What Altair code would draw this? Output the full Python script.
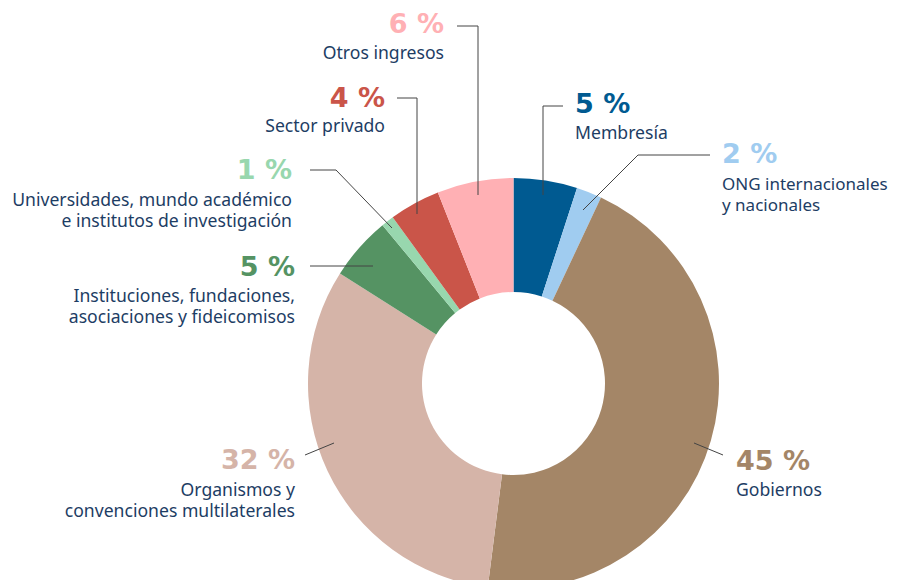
import altair as alt
import pandas as pd

# ---- data ----
categories = [
    "Membresía",
    "ONG internacionales y nacionales",
    "Gobiernos",
    "Organismos y convenciones multilaterales",
    "Instituciones, fundaciones, asociaciones y fideicomisos",
    "Universidades, mundo académico e institutos de investigación",
    "Sector privado",
    "Otros ingresos",
]
values = [5, 2, 45, 32, 5, 1, 4, 6]
pct_labels = ["5 %", "2 %", "45 %", "32 %", "5 %", "1 %", "4 %", "6 %"]
name_lines = [
    ["Membresía"],
    ["ONG internacionales", "y nacionales"],
    ["Gobiernos"],
    ["Organismos y", "convenciones multilaterales"],
    ["Instituciones, fundaciones,", "asociaciones y fideicomisos"],
    ["Universidades, mundo académico", "e institutos de investigación"],
    ["Sector privado"],
    ["Otros ingresos"],
]
colors = ["#005a91", "#a0ccf0", "#a48667", "#d5b4a8", "#559363", "#98d7ae", "#ca5549", "#ffb0b4"]

# ---- layout (page pixel coordinates) ----
M = 8  # page margin
center = (513.5, 383.5)
outer_r, inner_r = 205.5, 91.5
# (align, x, pct baseline, first line baseline, line step, name font size)
label_pos = [
    ("left", 575, 113, 139, 21, 17.6),
    ("left", 722, 163, 190, 21, 17.0),
    ("left", 736, 470, 496, 21, 17.6),
    ("right", 295, 469, 496, 21, 17.6),
    ("right", 295, 276, 302, 21, 17.6),
    ("right", 292, 179, 206, 21, 17.6),
    ("right", 385, 107, 132, 21, 17.6),
    ("right", 444, 33, 59, 21, 17.6),
]
leaders = [
    [(563, 106), (543, 106), (543, 195)],
    [(710, 155), (638, 155), (583, 210)],
    [(694, 443), (723, 455)],
    [(305, 455), (334, 443)],
    [(310, 266), (373, 266)],
    [(310, 170), (336, 170), (392, 228)],
    [(397, 98), (417, 98), (417, 214)],
    [(457, 26), (478, 26), (478, 195)],
]

NAME_FONT = "Noto Sans"
PCT_FONT = "DejaVu Sans"
NAME_COLOR = "#1d3d64"

# ---- tables ----
arc_df = pd.DataFrame({"cat": categories, "value": values, "order": range(len(categories))})

pct_rows, name_rows, line_rows = [], [], []
for c, p, lines, pos, pts in zip(categories, pct_labels, name_lines, label_pos, leaders):
    al, x, yb, y1, step, fs = pos
    pct_rows.append({"cat": c, "t": p, "x": x - M, "y": yb - M, "al": al})
    for k, ln in enumerate(lines):
        name_rows.append({"cat": c, "t": ln, "x": x - M, "y": y1 + k * step - M, "al": al, "fs": fs})
    for i, (px, py) in enumerate(pts):
        line_rows.append({"cat": c, "i": i, "x": px - M, "y": py - M})

pct_df = pd.DataFrame(pct_rows)
name_df = pd.DataFrame(name_rows)
line_df = pd.DataFrame(line_rows)

color_scale = alt.Scale(domain=categories, range=colors)

arcs = alt.Chart(arc_df).mark_arc(outerRadius=outer_r, innerRadius=inner_r).encode(
    theta=alt.Theta("value:Q", stack=True),
    order=alt.Order("order:Q"),
    color=alt.Color("cat:N", scale=color_scale, legend=None),
    x=alt.value(center[0] - M),
    y=alt.value(center[1] - M),
)

lines_layer = alt.Chart(line_df).mark_line(color="#444444", strokeWidth=1).encode(
    x=alt.X("x:Q", scale=None),
    y=alt.Y("y:Q", scale=None),
    detail="cat:N",
    order=alt.Order("i:Q"),
)

def pct_layer(al):
    return alt.Chart(pct_df).transform_filter(alt.datum.al == al).mark_text(
        align=al, baseline="alphabetic", font=PCT_FONT, fontSize=27, fontWeight="bold"
    ).encode(
        x=alt.X("x:Q", scale=None),
        y=alt.Y("y:Q", scale=None),
        text="t:N",
        color=alt.Color("cat:N", scale=color_scale, legend=None),
    )

def name_layer(al):
    return alt.Chart(name_df).transform_filter(alt.datum.al == al).mark_text(
        align=al, baseline="alphabetic", font=NAME_FONT, color=NAME_COLOR
    ).encode(
        x=alt.X("x:Q", scale=None),
        y=alt.Y("y:Q", scale=None),
        text="t:N",
        size=alt.Size("fs:Q", scale=None),
    )

chart = alt.layer(
    arcs, lines_layer,
    pct_layer("left"), pct_layer("right"),
    name_layer("left"), name_layer("right"),
).properties(
    width=881, height=572, padding=0, autosize="none", background="white"
).configure_view(stroke=None)

chart.save("out.html", embed_options={"renderer": "svg", "actions": False})
